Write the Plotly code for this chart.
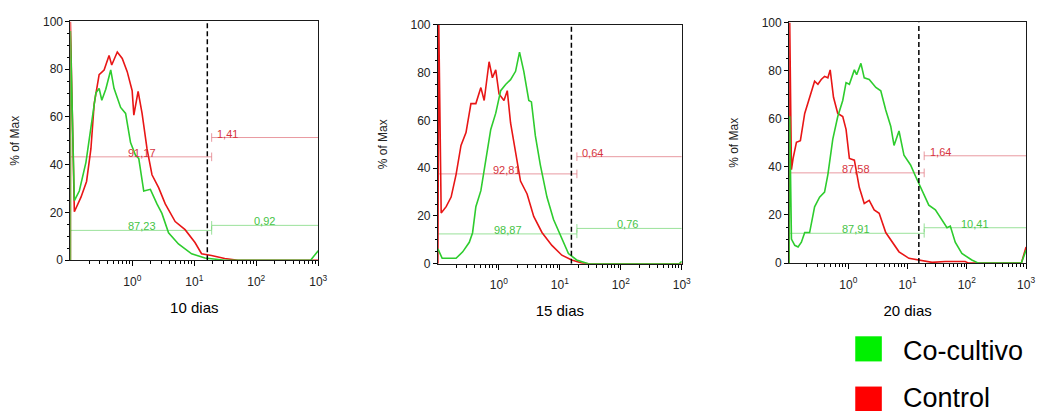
import numpy as np
import plotly.graph_objects as go

# ---------------- data ----------------
panel_titles = ["10 dias", "15 dias", "20 dias"]
series_names = ["Co-cultivo", "Control"]

# x = log10(fluorescence intensity), y = % of Max
d10_ctrl_logx = [-1, -1, -0.936, -0.829, -0.739, -0.669, -0.616, -0.536, -0.456, -0.376, -0.333, -0.243,
                 -0.163, -0.083, -0.003, 0.024, 0.093, 0.157, 0.237, 0.317, 0.424, 0.531, 0.691, 0.851,
                 1.011, 1.117, 1.277, 1.491, 1.704, 3.0]
d10_ctrl_y = [0, 100, 20.3, 26.4, 33, 46.6, 65.5, 77.7, 79.7, 85.8, 81.8, 87.2,
              84.5, 79, 71, 60.8, 70.7, 61.5, 46.6, 35.8, 30.4, 23.6, 16.2, 12.8,
              7.4, 2.7, 2, 0.7, 0, 0]
d10_coc_logx = [-1, -1, -0.936, -0.856, -0.749, -0.669, -0.589, -0.536, -0.493, -0.429, -0.349, -0.296,
                -0.189, -0.109, -0.029, 0.051, 0.104, 0.184, 0.291, 0.397, 0.477, 0.584, 0.744, 0.957,
                1.171, 1.491, 2.877, 3.0]
d10_coc_y = [0, 96, 25, 29, 41, 56, 70, 72, 67, 71.6, 79.7, 72,
             64, 61.5, 49.3, 44, 42.6, 29, 29.7, 23.6, 19.6, 11.5, 6.8, 2.7,
             0.9, 0, 0, 4]

d15_ctrl_logx = [-1, -0.985, -0.946, -0.864, -0.783, -0.702, -0.621, -0.539, -0.458, -0.377, -0.295, -0.241,
                 -0.16, -0.106, -0.051, 0.003, 0.084, 0.138, 0.192, 0.274, 0.355, 0.463, 0.572, 0.707,
                 0.87, 1.033, 1.195, 1.358, 1.466, 3.0]
d15_ctrl_y = [0, 100, 21.2, 23.9, 27.9, 37.3, 49.5, 54.9, 67, 67, 73.7, 68.3,
              84.5, 77.8, 81.1, 71, 68.3, 72.4, 58.9, 46.8, 34.6, 29.2, 19.8, 13.1,
              7.7, 3.6, 1.6, 0.3, 0, 0]
d15_coc_logx = [-1, -0.93, -0.837, -0.702, -0.593, -0.485, -0.431, -0.377, -0.295, -0.214, -0.133, -0.051,
                0.03, 0.111, 0.192, 0.274, 0.339, 0.409, 0.491, 0.534, 0.599, 0.68, 0.789, 0.897,
                1.033, 1.141, 1.276, 1.466, 2.957, 3.0]
d15_coc_y = [6.3, 2.3, 2.3, 2.3, 5, 9, 13, 23.9, 30.6, 44, 56.2, 63,
             72.4, 75, 77, 80.5, 88.5, 80.5, 68.3, 67.7, 53.5, 41.4, 27.9, 18.5,
             10.4, 4.3, 1.6, 0, 0, 1]

d20_ctrl_logx = [-1, -0.99, -0.961, -0.933, -0.877, -0.81, -0.737, -0.654, -0.57, -0.514, -0.458, -0.402,
                 -0.346, -0.307, -0.251, -0.179, -0.095, -0.039, 0.017, 0.101, 0.184, 0.268, 0.352, 0.436,
                 0.52, 0.631, 0.743, 0.855, 1.022, 1.19, 1.413, 1.637, 1.972, 2.03, 2.92, 3.0]
d20_ctrl_y = [0, 100, 38.8, 43.5, 50.2, 50.9, 62.2, 68.9, 75.6, 74.3, 76.3, 77.6,
              77, 80.3, 68.9, 62.2, 60.9, 55.6, 43.5, 42.8, 31.5, 24.8, 26.1, 22.1,
              20.7, 12.7, 8.7, 4.7, 2, 1.3, 0.3, 0.7, 0.7, 0, 0, 6.7]
d20_coc_logx = [-1, -0.99, -0.961, -0.905, -0.849, -0.793, -0.737, -0.654, -0.57, -0.486, -0.402, -0.346,
                -0.263, -0.179, -0.095, -0.039, 0.017, 0.101, 0.14, 0.212, 0.268, 0.352, 0.464, 0.547,
                0.631, 0.715, 0.771, 0.855, 0.939, 1.05, 1.134, 1.246, 1.358, 1.469, 1.581, 1.665,
                1.721, 1.804, 1.916, 2.084, 2.196, 2.92, 3.0]
d20_coc_y = [0, 61, 10, 7.4, 6.7, 8.7, 12.7, 12.7, 23.4, 27.4, 29.5, 36.8,
             51.5, 60.9, 67.6, 75, 74.3, 80.3, 78.3, 83, 77, 76.3, 73, 71.6,
             63.6, 56.9, 48.9, 54.9, 44.8, 40.8, 36.1, 30.1, 24.1, 22.1, 18.1, 14.7,
             15.4, 8.7, 4, 1.3, 0, 0, 5.4]

ctrl_logx = [d10_ctrl_logx, d15_ctrl_logx, d20_ctrl_logx]
ctrl_y = [d10_ctrl_y, d15_ctrl_y, d20_ctrl_y]
coc_logx = [d10_coc_logx, d15_coc_logx, d20_coc_logx]
coc_y = [d10_coc_y, d15_coc_y, d20_coc_y]

# gates
threshold_log = [1.21, 1.19, 1.19]          # dashed threshold (log10)
gate_split_log = [1.28, 1.28, 1.28]         # split between left/right gates (log10)
ctrl_gate_left_y = [43.3, 37.6, 37.5]
ctrl_gate_right_y = [51.4, 44.8, 44.6]
coc_gate_left_y = [12.5, 12.5, 12.4]
coc_gate_right_y = [14.6, 14.8, 14.7]
ctrl_left_pct = ["91,17", "92,81", "87,58"]
ctrl_right_pct = ["1,41", "0,64", "1,64"]
coc_left_pct = ["87,23", "98,87", "87,91"]
coc_right_pct = ["0,92", "0,76", "10,41"]

x_tick_vals = [1, 10, 100, 1000]
x_tick_text = ["10<sup>0</sup>", "10<sup>1</sup>", "10<sup>2</sup>", "10<sup>3</sup>"]
y_tick_vals = [0, 20, 40, 60, 80, 100]

# ---------------- style ----------------
W, H = 1043, 418
RED = "rgb(232,22,22)"
GREEN = "rgb(46,204,46)"
RED_GATE = "rgba(226,120,130,0.75)"
GREEN_GATE = "rgba(120,215,120,0.75)"
RED_TXT = "rgb(214,52,62)"
GREEN_TXT = "rgb(70,196,70)"
LEG_RED = "rgb(255,0,0)"
LEG_GREEN = "rgb(0,240,0)"
FONT = "Liberation Sans, Arial, sans-serif"

x_domains = [[71 / W, 321 / W], [441.7 / W, 687.7 / W], [796 / W, 1035 / W]]
y_domains = [[1 - 262 / H, 1 - 15 / H], [1 - 265.7 / H, 1 - 18.3 / H], [1 - 265 / H, 1 - 16 / H]]

ctrl_left_lbl_x = [0.15, 0.13, 0.13]
ctrl_right_lbl_x = [1.54, 1.53, 1.55]
coc_left_lbl_x = [0.15, 0.15, 0.13]
coc_right_lbl_x = [2.14, 2.11, 2.13]

minor_x = [m * 10 ** d for d in range(-1, 3) for m in range(2, 10)]

fig = go.Figure()
annotations = []
shapes = []

for i in range(3):
    xa = "x" if i == 0 else f"x{i+1}"
    ya = "y" if i == 0 else f"y{i+1}"
    xmax, xmin = 1000, 0.1
    split = 10 ** gate_split_log[i]

    # gate bars (drawn under the histograms)
    for lvl_l, lvl_r, col in [(ctrl_gate_left_y[i], ctrl_gate_right_y[i], RED_GATE),
                              (coc_gate_left_y[i], coc_gate_right_y[i], GREEN_GATE)]:
        gx = [xmin, split, None, split, split, None, split, xmax, None, split, split]
        gy = [lvl_l, lvl_l, None, lvl_l - 1.8, lvl_l + 1.8, None, lvl_r, lvl_r, None, lvl_r - 1.8, lvl_r + 1.8]
        fig.add_trace(go.Scatter(x=gx, y=gy, mode="lines", line=dict(color=col, width=1),
                                 xaxis=xa, yaxis=ya, showlegend=False, hoverinfo="skip"))

    fig.add_trace(go.Scatter(x=np.power(10.0, ctrl_logx[i]), y=ctrl_y[i], mode="lines",
                             line=dict(color=RED, width=1.6), name=series_names[1],
                             xaxis=xa, yaxis=ya, showlegend=False))
    fig.add_trace(go.Scatter(x=np.power(10.0, coc_logx[i]), y=coc_y[i], mode="lines",
                             line=dict(color=GREEN, width=1.6), name=series_names[0],
                             xaxis=xa, yaxis=ya, showlegend=False))

    thr = 10 ** threshold_log[i]
    fig.add_trace(go.Scatter(x=[thr, thr], y=[0, 100], mode="lines",
                             line=dict(color="black", width=1.5, dash="5px,3px"),
                             xaxis=xa, yaxis=ya, showlegend=False, hoverinfo="skip"))

    # percentages
    for txt, lx, ly, col in [(ctrl_left_pct[i], ctrl_left_lbl_x[i], ctrl_gate_left_y[i], RED_TXT),
                             (ctrl_right_pct[i], ctrl_right_lbl_x[i], ctrl_gate_right_y[i], RED_TXT),
                             (coc_left_pct[i], coc_left_lbl_x[i], coc_gate_left_y[i], GREEN_TXT),
                             (coc_right_pct[i], coc_right_lbl_x[i], coc_gate_right_y[i], GREEN_TXT)]:
        annotations.append(dict(x=lx, y=ly, xref=xa, yref=ya, text=txt, showarrow=False,
                                yanchor="bottom", xanchor="center", yshift=-4,
                                font=dict(family=FONT, size=11, color=col)))

    axkey_x = "xaxis" if i == 0 else f"xaxis{i+1}"
    axkey_y = "yaxis" if i == 0 else f"yaxis{i+1}"
    fig.layout[axkey_x] = dict(
        type="log", range=[-1, 3], domain=x_domains[i], anchor=ya,
        showline=True, linecolor="#1a1a1a", linewidth=1, mirror=True,
        showgrid=False, zeroline=False,
        tickmode="array", tickvals=x_tick_vals, ticktext=x_tick_text,
        ticks="outside", ticklen=5, tickcolor="black", ticklabelstandoff=5,
        minor=dict(tickmode="array", tickvals=minor_x, ticks="outside", ticklen=3,
                   tickcolor="black", showgrid=False),
        tickfont=dict(family=FONT, size=12, color="#222"),
        title=dict(text=panel_titles[i], font=dict(family=FONT, size=15, color="black"), standoff=14),
    )
    fig.layout[axkey_y] = dict(
        range=[0, 100], domain=y_domains[i], anchor=xa,
        showline=True, linecolor="#1a1a1a", linewidth=1, mirror=True,
        showgrid=False, zeroline=False,
        tickmode="array", tickvals=y_tick_vals,
        ticks="outside", ticklen=4, tickcolor="black",
        minor=dict(dtick=5, ticks="outside", ticklen=2, tickcolor="black", showgrid=False),
        tickfont=dict(family=FONT, size=12, color="#222"),
        title=dict(text="% of Max", font=dict(family=FONT, size=12, color="#222"), standoff=20),
    )

# legend (manual)
legend_items = [(series_names[0], LEG_GREEN, 340.7, 366.7, 356),
                (series_names[1], LEG_RED, 392.7, 418, 405)]
for name, col, top, bot, cy in legend_items:
    shapes.append(dict(type="rect", xref="paper", yref="paper",
                       x0=862.7 / W, x1=889.5 / W, y0=1 - bot / H, y1=1 - top / H,
                       fillcolor=col, line=dict(width=0)))
    annotations.append(dict(x=909 / W, y=1 - cy / H, xref="paper", yref="paper", text=name,
                            showarrow=False, xanchor="left", yanchor="middle",
                            font=dict(family=FONT, size=27, color="black")))

fig.update_layout(
    width=W, height=H, margin=dict(l=0, r=0, t=0, b=0),
    paper_bgcolor="white", plot_bgcolor="white",
    annotations=annotations, shapes=shapes, showlegend=False,
)

fig.write_html("out.html")
